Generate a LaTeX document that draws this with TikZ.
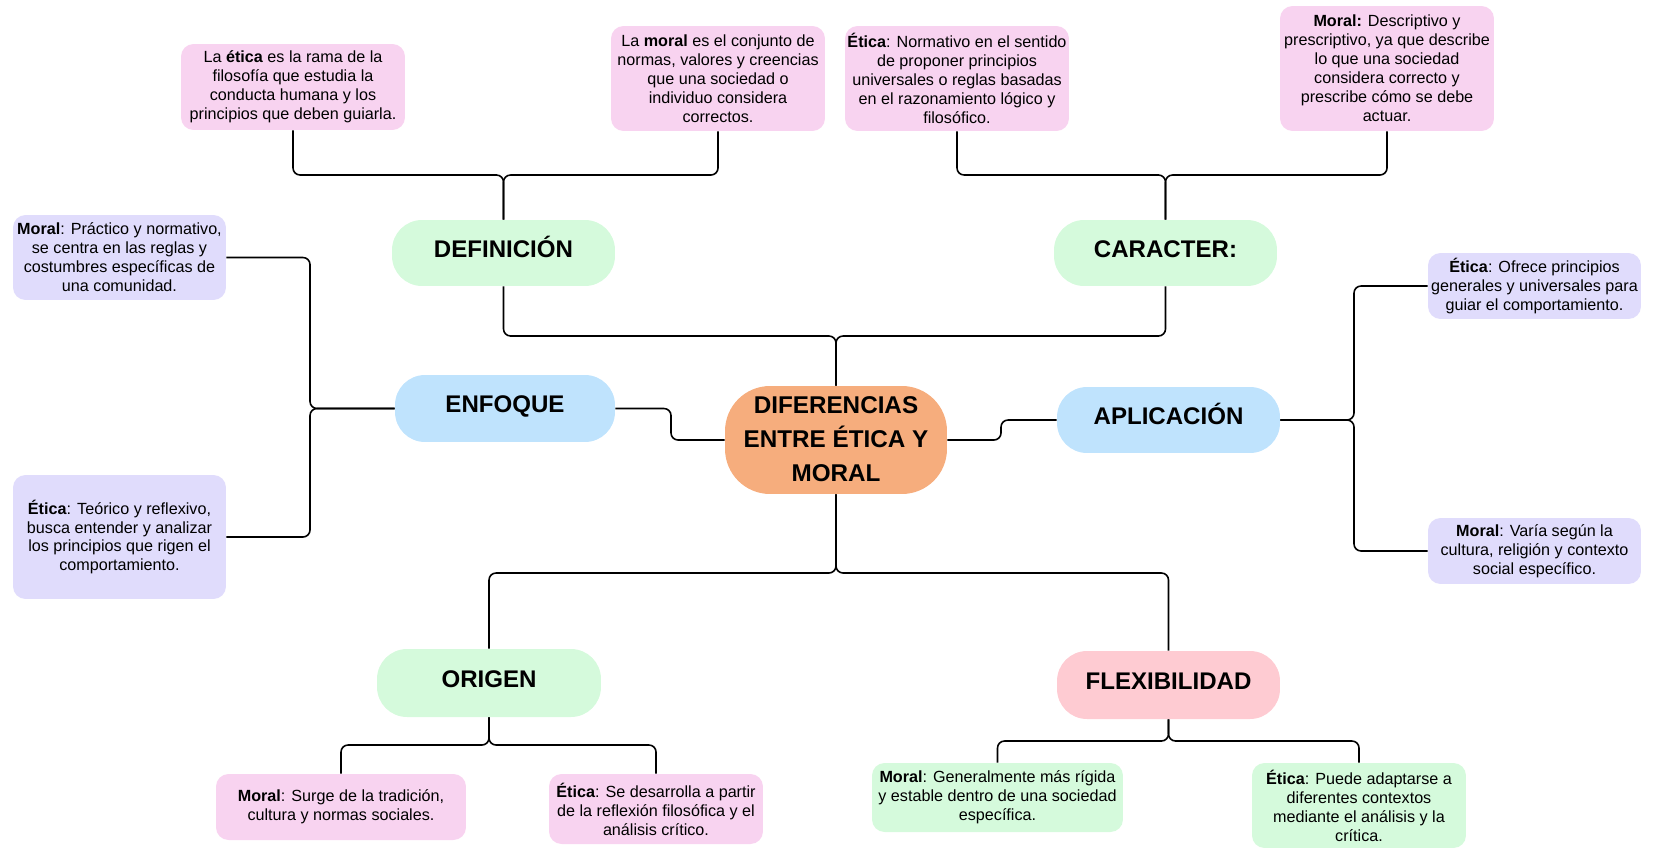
\documentclass[tikz,border=0pt]{standalone}
\usepackage{fontspec}
\setmainfont{Liberation Sans}
\usetikzlibrary{positioning}
\definecolor{rosa}{RGB}{248,211,240}
\definecolor{lila}{RGB}{224,220,252}
\definecolor{verde}{RGB}{213,250,220}
\definecolor{celeste}{RGB}{191,227,253}
\definecolor{salmon}{RGB}{246,173,125}
\definecolor{coral}{RGB}{254,203,210}
\tikzset{
  link/.style={line width=0.9pt,rounded corners=4pt},
  nota/.style={rounded corners=0.25cm,align=center,inner sep=1pt,font=\fontsize{9.2}{10.8}\selectfont},
  tema/.style={rounded corners=0.6cm,align=center,inner sep=1pt,minimum width=4.46cm,minimum height=1.32cm,font=\fontsize{13.7}{16}\selectfont\bfseries},
  alto/.style={text height=10pt,text depth=5pt},
}

\begin{document}
\begin{tikzpicture}[x=0.02cm,y=-0.02cm]
    \useasboundingbox (0,0) rectangle (1653,848);
    \node [tema,fill=salmon,minimum width=4.44cm,minimum height=2.16cm,rounded corners=0.9cm,font=\fontsize{13.8}{19.4}\selectfont\bfseries] (mid) at (836,440) {\raisebox{1.5pt}{DIFERENCIAS}\\\raisebox{1.5pt}{ENTRE ÉTICA Y}\\\raisebox{1.5pt}{MORAL}};
    \node [tema,alto,fill=verde] (def) at (503.5,253) {DEFINICIÓN};
    \node [tema,alto,fill=verde] (car) at (1165.5,253) {CARACTER:};
    \node [tema,alto,fill=celeste,minimum width=4.4cm,minimum height=1.34cm] (enf) at (505,408.5) {ENFOQUE};
    \node [tema,alto,fill=celeste] (apl) at (1168.5,420) {APLICACIÓN};
    \node [tema,alto,fill=verde,minimum width=4.48cm,minimum height=1.36cm] (ori) at (489,683) {ORIGEN};
    \node [tema,alto,fill=coral,minimum height=1.36cm] (flx) at (1168.5,685) {FLEXIBILIDAD};

    \node [nota,fill=rosa,minimum width=4.48cm,minimum height=1.72cm] (defE) at (293,87) {La \textbf{ética} es la rama de la\\filosofía que estudia la\\conducta humana y los\\principios que deben guiarla.};
    \node [nota,fill=rosa,minimum width=4.28cm,minimum height=2.1cm] (defM) at (718,78.5) {La \textbf{moral} es el conjunto de\\normas, valores y creencias\\que una sociedad o\\individuo considera\\correctos.};
    \node [nota,fill=rosa,minimum width=4.48cm,minimum height=2.1cm] (carE) at (957,78.5) {\textbf{Ética}: Normativo en el sentido\\de proponer principios\\universales o reglas basadas\\en el razonamiento lógico y\\filosófico.};
    \node [nota,fill=rosa,minimum width=4.28cm,minimum height=2.5cm] (carM) at (1387,68.5) {\textbf{Moral:} Descriptivo y\\prescriptivo, ya que describe\\lo que una sociedad\\considera correcto y\\prescribe cómo se debe\\actuar.};
    \node [nota,fill=lila,minimum width=4.26cm,minimum height=1.7cm] (enfM) at (119.5,257.5) {\textbf{Moral}: Práctico y normativo,\\se centra en las reglas y\\costumbres específicas de\\una comunidad.};
    \node [nota,fill=lila,minimum width=4.26cm,minimum height=2.48cm] (enfE) at (119.5,537) {\textbf{Ética}: Teórico y reflexivo,\\busca entender y analizar\\los principios que rigen el\\comportamiento.};
    \node [nota,fill=lila,minimum width=4.26cm,minimum height=1.32cm] (aplE) at (1534.5,286) {\textbf{Ética}: Ofrece principios\\generales y universales para\\guiar el comportamiento.};
    \node [nota,fill=lila,minimum width=4.26cm,minimum height=1.32cm] (aplM) at (1534.5,551) {\textbf{Moral}: Varía según la\\cultura, religión y contexto\\social específico.};
    \node [nota,fill=rosa,minimum width=5cm,minimum height=1.32cm] (oriM) at (341,807) {\textbf{Moral}: Surge de la tradición,\\cultura y normas sociales.};
    \node [nota,fill=rosa,minimum width=4.28cm,minimum height=1.4cm] (oriE) at (656,809) {\textbf{Ética}: Se desarrolla a partir\\de la reflexión filosófica y el\\análisis crítico.};
    \node [nota,fill=verde,minimum width=5.02cm,minimum height=1.38cm] (flxM) at (997.5,797.5) {\textbf{Moral}: Generalmente más rígida\\y estable dentro de una sociedad\\específica.};
    \node [nota,fill=verde,minimum width=4.28cm,minimum height=1.7cm] (flxE) at (1359,805.5) {\textbf{Ética}: Puede adaptarse a\\diferentes contextos\\mediante el análisis y la\\crítica.};

    \draw [link] (def.north) -- (def.north |- 0,175) -| (defE.south);
    \draw [link] (def.north) -- (def.north |- 0,175) -| (defM.south);
    \draw [link] (car.north) -- (car.north |- 0,175) -| (carE.south);
    \draw [link] (car.north) -- (car.north |- 0,175) -| (carM.south);
    \draw [link] (mid.north) -- (mid.north |- 0,336) -| (def.south);
    \draw [link] (mid.north) -- (mid.north |- 0,336) -| (car.south);
    \draw [link] (mid.west) -- (mid.west -| 671,0) |- (enf.east);
    \draw [link] (enf.west) -- (enf.west -| 310,0) |- (enfM.east);
    \draw [link] (enf.west) -- (enf.west -| 310,0) |- (enfE.east);
    \draw [link] (mid.east) -- (mid.east -| 1001,0) |- (apl.west);
    \draw [link] (apl.east) -- (apl.east -| 1354,0) |- (aplE.west);
    \draw [link] (apl.east) -- (apl.east -| 1354,0) |- (aplM.west);
    \draw [link] (mid.south) -- (mid.south |- 0,573) -| (ori.north);
    \draw [link] (mid.south) -- (mid.south |- 0,573) -| (flx.north);
    \draw [link] (ori.south) -- (ori.south |- 0,745) -| (oriM.north);
    \draw [link] (ori.south) -- (ori.south |- 0,745) -| (oriE.north);
    \draw [link] (flx.south) -- (flx.south |- 0,741) -| (flxM.north);
    \draw [link] (flx.south) -- (flx.south |- 0,741) -| (flxE.north);
  \end{tikzpicture}
\end{document}
